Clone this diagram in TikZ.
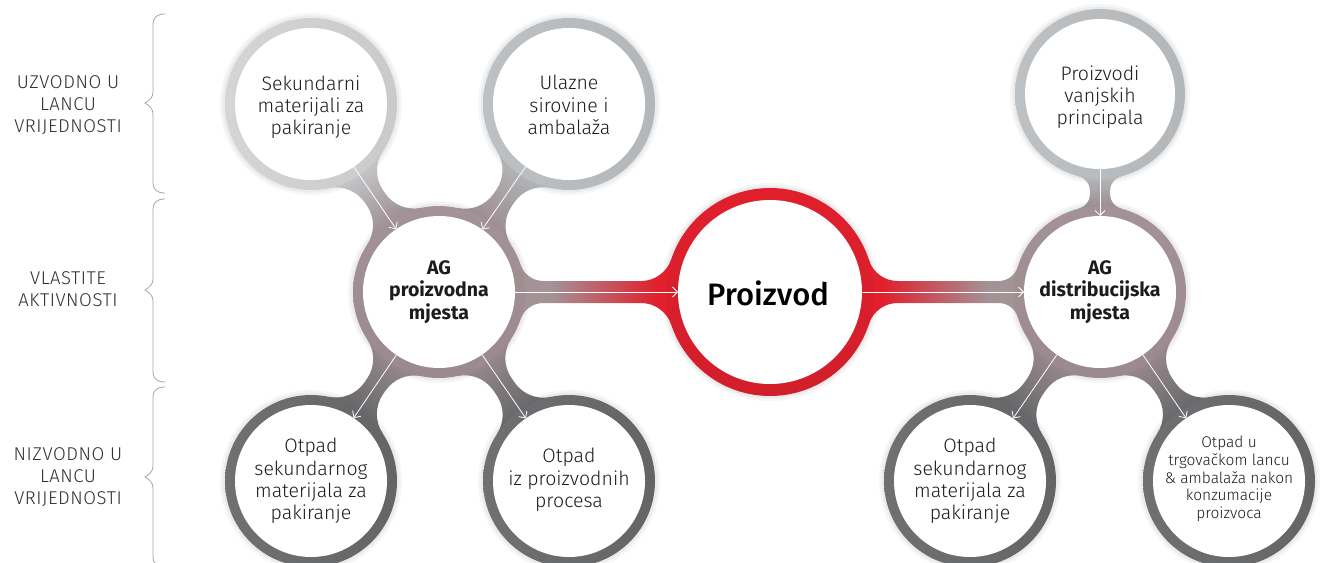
\documentclass[tikz,border=0pt]{standalone}
\usepackage{fontspec}
\setmainfont{Fira Sans}
\newfontfamily\lightf{Fira Sans Light}
\newfontfamily\medf{Fira Sans Medium}
\usetikzlibrary{calc,arrows.meta}
\definecolor{txt}{HTML}{1C1C1C}
\definecolor{lbltxt}{HTML}{2E2E2E}
\definecolor{bracecol}{HTML}{A5A5A5}
\definecolor{cSek}{HTML}{C8CACC}
\definecolor{cSekL}{HTML}{D3D5D6}
\definecolor{cTop}{HTML}{B4B7B9}
\definecolor{cTopL}{HTML}{BEC1C3}
\definecolor{cAG}{HTML}{9A8A8E}
\definecolor{cAGL}{HTML}{A39296}
\definecolor{cRed}{HTML}{E11F2D}
\definecolor{cRedD}{HTML}{D21E2B}
\definecolor{cBot}{HTML}{636567}
\definecolor{cBotL}{HTML}{6E7072}
\colorlet{bandA}{black}
\colorlet{bandB}{black}
\pgfdeclarehorizontalshading[bandA,bandB]{bandshade}{100bp}{color(0bp)=(bandA); color(42bp)=(bandA); color(58bp)=(bandB); color(100bp)=(bandB)}
\pgfdeclarehorizontalshading[bandA,bandB]{neckshade}{100bp}{color(0bp)=(bandA); color(46bp)=(bandA); color(54bp)=(bandB); color(100bp)=(bandB)}
\def\bshade{bandshade}
% band with fillets between two circles: ax ay Ra bx by Rb halfwidth filletA filletB
\newcommand\bandlink[9]{%
  \pgfmathsetmacro\bdx{#4-(#1)}%
  \pgfmathsetmacro\bdy{#5-(#2)}%
  \pgfmathsetmacro\bang{atan2(\bdy,\bdx)}%
  \pgfmathsetmacro\brot{-1*(\bang)}%
  \pgfmathsetmacro\bL{veclen(\bdx,\bdy)}%
  \pgfmathsetmacro\tA{10*sqrt(((#3+#8)/10)^2-((#7+#8)/10)^2)}%
  \pgfmathsetmacro\thA{atan((#7+#8)/\tA)}%
  \pgfmathsetmacro\kA{4/3*tan((90-\thA)/4)*#8}%
  \pgfmathsetmacro\tB{10*sqrt(((#6+#9)/10)^2-((#7+#9)/10)^2)}%
  \pgfmathsetmacro\thB{atan((#7+#9)/\tB)}%
  \pgfmathsetmacro\kB{4/3*tan((90-\thB)/4)*#9}%
  \pgfmathsetmacro\qA{\tA}%
  \pgfmathsetmacro\qB{\bL-\tB}%
  \begin{scope}[transform canvas={shift={(#1,#2)},rotate=\brot}]
    \shade[shading=\bshade]
      (0,0) -- (\thA:#3)
      .. controls ($(\thA:#3)+(\thA-90:\kA)$) and (\qA-\kA,#7) .. (\qA,#7)
      -- (\qB,#7)
      .. controls (\qB+\kB,#7) and ($(\bL,0)+(180-\thB:#6)+(270-\thB:\kB)$) .. ($(\bL,0)+(180-\thB:#6)$)
      -- (\bL,0)
      -- ($(\bL,0)+(180+\thB:#6)$)
      .. controls ($(\bL,0)+(180+\thB:#6)+(90+\thB:\kB)$) and (\qB+\kB,-#7) .. (\qB,-#7)
      -- (\qA,-#7)
      .. controls (\qA-\kA,-#7) and ($(-\thA:#3)+(90-\thA:\kA)$) .. (-\thA:#3)
      -- cycle;
  \end{scope}}
\newcommand\sidebrace[3]{%
  \draw[bracebar] (165,#1) .. controls (157,#1) and (153,#1+3) .. (153,#1+11)
    -- (153,#2-11) .. controls (153,#2-6) and (150,#2-3) .. (145,#2)
    .. controls (150,#2+3) and (153,#2+6) .. (153,#2+11)
    -- (153,#3-11) .. controls (153,#3-3) and (157,#3) .. (165,#3);}
\newcommand\halo[3]{%
  \fill[black, opacity=0.035] (#1,#2) circle[radius=#3+5];
  \fill[black, opacity=0.045] (#1,#2) circle[radius=#3+2.5];}
\tikzset{
  ringO/.style={circle, inner sep=0pt, outer sep=0pt, draw=none},
  ringI/.style={circle, fill=white, inner sep=0pt, outer sep=0pt, draw=none},
  lbl/.style={align=center, text=txt, inner sep=0pt, font=\lightf\fontsize{19.5}{22.3}\selectfont},
  lblbold/.style={align=center, text=txt, inner sep=0pt, font=\fontsize{19.5}{22.3}\selectfont\bfseries},
  lblsmall/.style={align=center, text=txt, inner sep=0pt, font=\lightf\fontsize{15.5}{17.6}\selectfont},
  sidelbl/.style={align=center, text=lbltxt, inner sep=0pt, font=\lightf\fontsize{18.5}{21.8}\selectfont\addfontfeature{LetterSpace=3}},
  bracebar/.style={draw=bracecol, line width=0.8pt},
  flow/.style={draw=white, line width=0.8pt, -{Straight Barb[length=5pt,width=10pt]}},
}
\begin{document}
\begin{tikzpicture}[x=1pt,y=-1pt]
\useasboundingbox (0,0) rectangle (1322,562);
% ---------- soft shadows ----------
\halo{311}{104}{86}\halo{569}{104}{86}\halo{1100}{94}{85}
\halo{439}{292}{86}\halo{1100}{292}{86}\halo{770}{292}{104}
\halo{311}{481}{86}\halo{569}{481}{86}\halo{970}{481}{86}\halo{1229}{481}{86}
% ---------- bands ----------
\colorlet{bandA}{cSek}\colorlet{bandB}{cAG}
\bandlink{311}{104}{86}{439}{292}{86}{11}{35}{35}
\colorlet{bandA}{cTop}\colorlet{bandB}{cAG}
\bandlink{569}{104}{86}{439}{292}{86}{11}{35}{35}
\colorlet{bandA}{cAG}\colorlet{bandB}{cBot}
\bandlink{439}{292}{86}{311}{481}{86}{11}{35}{35}
\bandlink{439}{292}{86}{569}{481}{86}{11}{35}{35}
\bandlink{1100}{292}{86}{970}{481}{86}{11}{35}{35}
\bandlink{1100}{292}{86}{1229}{481}{86}{11}{35}{35}
\colorlet{bandA}{cAGL}\colorlet{bandB}{cRed}
\bandlink{439}{292}{86}{770}{292}{104}{11}{24}{32}
\colorlet{bandA}{cRed}\colorlet{bandB}{cAGL}
\bandlink{770}{292}{104}{1100}{292}{86}{11}{30}{20}
\def\bshade{neckshade}
\colorlet{bandA}{cTop}\colorlet{bandB}{cAG}
\bandlink{1100}{94}{85}{1100}{292}{86}{10}{15}{15}
% ---------- rings ----------
\node[ringO, minimum size=172pt, left color=cSekL, right color=cSek] (sekO) at (311,104) {};
\node[ringO, minimum size=172pt, left color=cTopL, right color=cTop] (ulO) at (569,104) {};
\node[ringO, minimum size=170pt, left color=cTopL, right color=cTop] (pvO) at (1100,94) {};
\node[ringO, minimum size=172pt, top color=cAGL, bottom color=cAG] (agpO) at (439,292) {};
\node[ringO, minimum size=172pt, top color=cAGL, bottom color=cAG] (agdO) at (1100,292) {};
\node[ringO, minimum size=208pt, top color=cRed, bottom color=cRedD] (przO) at (770,292) {};
\node[ringO, minimum size=172pt, left color=cBotL, right color=cBot] (o1O) at (311,481) {};
\node[ringO, minimum size=172pt, left color=cBotL, right color=cBot] (o2O) at (569,481) {};
\node[ringO, minimum size=172pt, left color=cBotL, right color=cBot] (o3O) at (970,481) {};
\node[ringO, minimum size=172pt, left color=cBotL, right color=cBot] (o4O) at (1229,481) {};
% ---------- inner white discs ----------
\node[ringI, minimum size=152pt] (sek) at (311,104) {};
\node[ringI, minimum size=152pt] (ul) at (569,104) {};
\node[ringI, minimum size=150pt] (pv) at (1100,94) {};
\node[ringI, minimum size=152pt] (agp) at (439,292) {};
\node[ringI, minimum size=152pt] (agd) at (1100,292) {};
\node[ringI, minimum size=184pt] (prz) at (770,292) {};
\node[ringI, minimum size=152pt] (o1) at (311,481) {};
\node[ringI, minimum size=152pt] (o2) at (569,481) {};
\node[ringI, minimum size=152pt] (o3) at (970,481) {};
\node[ringI, minimum size=152pt] (o4) at (1229,481) {};
% ---------- texts ----------
\node[lbl] (sekT) at (311,107) {Sekundarni\\materijali za\\pakiranje};
\node[lbl] (ulT) at (569,105) {Ulazne\\sirovine i\\ambalaža};
\node[lbl] (pvT) at (1100,97) {Proizvodi\\vanjskih\\principala};
\node[lblbold] (agpT) at (439,292) {AG\\proizvodna\\mjesta};
\node[lblbold] (agdT) at (1100,292) {AG\\distribucijska\\mjesta};
\node[text=black, inner sep=0pt, font=\medf\fontsize{31}{36}\selectfont] (przT) at (768,293) {Proizvod};
\node[lbl] (o1T) at (311,481) {Otpad\\sekundarnog\\materijala za\\pakiranje};
\node[lbl] (o2T) at (569,480) {Otpad\\iz proizvodnih\\procesa};
\node[lbl] (o3T) at (970,481) {Otpad\\sekundarnog\\materijala za\\pakiranje};
\node[lblsmall] (o4T) at (1229,479) {Otpad u\\trgovačkom lancu\\\& ambalaža nakon\\konzumacije\\proizvoca};
% ---------- arrows ----------
\draw[flow] (sek) -- (agp);
\draw[flow] (ul) -- (agp);
\draw[flow] (agp) -- (o1);
\draw[flow] (agp) -- (o2);
\draw[flow] (agp) -- (prz);
\draw[flow] (prz) -- (agd);
\draw[flow] (pv) -- (agd);
\draw[flow] (agd) -- (o3);
\draw[flow] (agd) -- (o4);
% ---------- side labels ----------
\sidebrace{14}{103}{193}
\sidebrace{199}{290}{382}
\sidebrace{387}{477}{567}
\node[sidelbl] (up) at (68,105) {UZVODNO U\\LANCU\\VRIJEDNOSTI};
\node[sidelbl] (own) at (68,289) {VLASTITE\\AKTIVNOSTI};
\node[sidelbl] (down) at (68,477) {NIZVODNO U\\LANCU\\VRIJEDNOSTI};
\end{tikzpicture}
\end{document}
